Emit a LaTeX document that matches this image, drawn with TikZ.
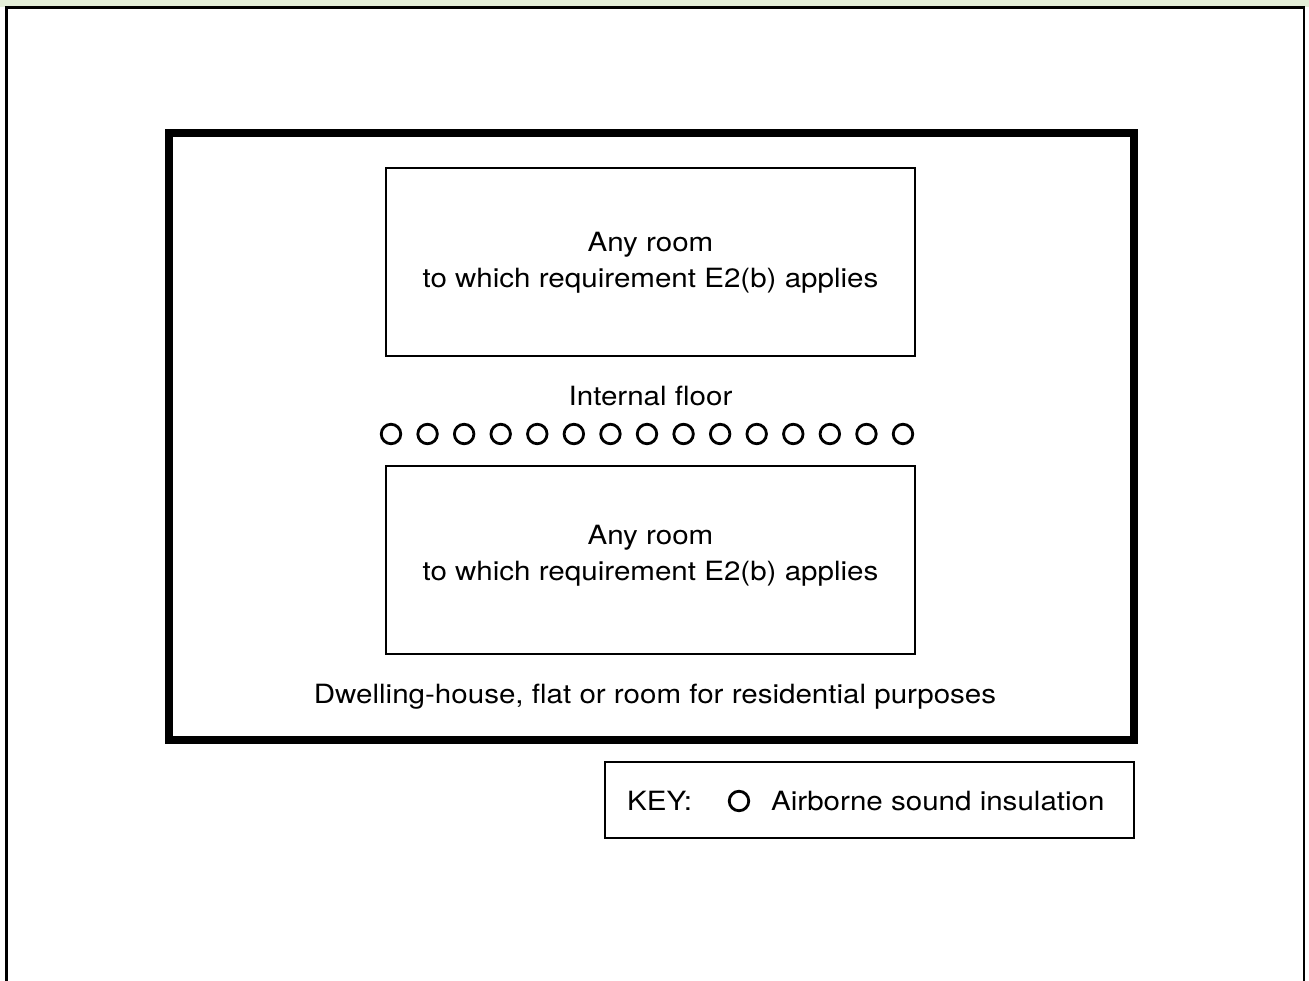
\documentclass[tikz,border=0pt]{standalone}
\usepackage{fontspec}
\setmainfont[FakeStretch=1.115]{TeX Gyre Heros}
\definecolor{bandgreen}{HTML}{E4EED8}
\begin{document}
\begin{tikzpicture}[x=1pt,y=-1pt,
  txt/.style={font=\fontsize{26.5}{36}\selectfont, inner sep=0pt, anchor=base, align=center},
  room/.style={draw, line width=2.5pt, minimum width=529pt, minimum height=188pt, inner sep=0pt},
  ins/.style={draw, line width=2.8pt, circle, minimum size=19.5pt, inner sep=0pt},
]
\useasboundingbox (0,0) rectangle (1309,980);
\fill[white] (0,0) rectangle (1309,980);
\fill[bandgreen] (0,0) rectangle (1309,7);
\clip (0,0) rectangle (1309,980);
\draw[line width=2.5pt, fill=white] (6.5,7.5) rectangle (1304,1000);
% dwelling
\node[draw, line width=8pt, minimum width=965pt, minimum height=607pt, inner sep=0pt] (dwell) at (651.5,436.5) {};
\node[room] (room1) at (650.5,262) {};
\node[room] (room2) at (650.5,560) {};
\node[txt] (room1a) at (650.5,251) {Any room};
\node[txt] (room1b) at (650.5,287) {to which requirement E2(b) applies};
\node[txt] (room2a) at (650.5,544) {Any room};
\node[txt] (room2b) at (650.5,580) {to which requirement E2(b) applies};
\node[txt] (floor) at (650.5,405) {Internal floor};
\foreach \i in {0,...,14} {
  \node[ins] (c\i) at ({391+\i*36.571},434) {};
}
\node[txt] (dwellt) at (655,703) {Dwelling-house, flat or room for residential purposes};
% key
\node[draw, line width=2pt, minimum width=529pt, minimum height=76pt, inner sep=0pt] (key) at (869.5,800) {};
\node[txt, anchor=base west] (keyt) at (627,810) {KEY:};
\node[ins] (keyc) at (739,801) {};
\node[txt, anchor=base west] (keyl) at (771,810) {Airborne sound insulation};
\end{tikzpicture}
\end{document}
